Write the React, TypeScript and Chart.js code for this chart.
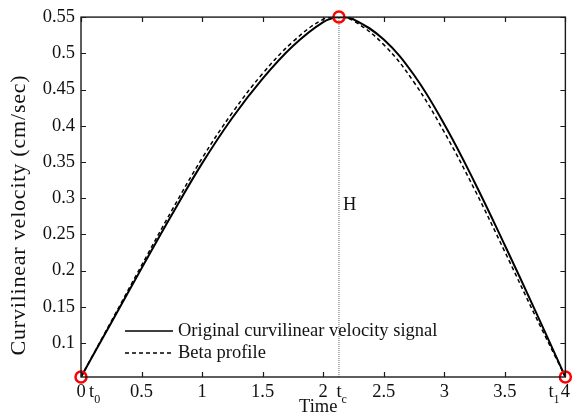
import { useEffect, useRef } from "react";
import { Chart, registerables } from "chart.js";

Chart.register(...registerables);

const timeValues = [0, 0.25, 0.5, 0.75, 1, 1.25, 1.5, 1.75, 2, 2.13, 2.25, 2.5, 2.75, 3, 3.25, 3.5, 3.75, 4];
const originalVelocity = [0.053, 0.128, 0.203, 0.277, 0.348, 0.411, 0.465, 0.51, 0.543, 0.55, 0.547, 0.519, 0.47, 0.402, 0.322, 0.235, 0.145, 0.053];
const betaProfile = [0.053, 0.13, 0.207, 0.283, 0.355, 0.418, 0.472, 0.516, 0.547, 0.55, 0.545, 0.512, 0.46, 0.391, 0.312, 0.226, 0.138, 0.053];

const markerTimes = [0, 2.13, 4];
const markerValues = [0.053, 0.55, 0.053];

const peakTime = 2.13;
const hLineValues = [0.053, 0.55];
const hLabelValue = 0.29;

const xTickValues = [0, 0.5, 1, 1.5, 2, 2.5, 3, 3.5, 4];
const yTickValues = [0.1, 0.15, 0.2, 0.25, 0.3, 0.35, 0.4, 0.45, 0.5, 0.55];
const specialTickTimes = [0, 2.13, 4];
const specialTickSubs = ["0", "c", "1"];

const seriesNames = ["Original curvilinear velocity signal", "Beta profile"];
const xTitle = "Time";
const yTitle = "Curvilinear velocity (cm/sec)";

const FONT = "'Liberation Serif', 'Times New Roman', serif";
const FS = 18.5;

export default function App() {
  const ref = useRef<HTMLCanvasElement | null>(null);

  useEffect(() => {
    if (!ref.current) return;

    const decor = {
      id: "decor",
      afterDatasetsDraw(chart: any) {
        const { ctx, chartArea } = chart;
        const { left, right, top, bottom } = chartArea;
        const xs = chart.scales.x;
        const ys = chart.scales.y;
        ctx.save();
        // box
        ctx.strokeStyle = "#1a1a1a";
        ctx.lineWidth = 1.4;
        ctx.setLineDash([]);
        ctx.strokeRect(left, top, right - left, bottom - top);
        // inward ticks
        ctx.lineWidth = 1.2;
        ctx.beginPath();
        xTickValues.forEach((v) => {
          const px = Math.round(xs.getPixelForValue(v)) + 0.5;
          ctx.moveTo(px, bottom);
          ctx.lineTo(px, bottom - 5);
          ctx.moveTo(px, top);
          ctx.lineTo(px, top + 5);
        });
        yTickValues.forEach((v) => {
          const py = Math.round(ys.getPixelForValue(v)) + 0.5;
          ctx.moveTo(left, py);
          ctx.lineTo(left + 5, py);
          ctx.moveTo(right, py);
          ctx.lineTo(right - 5, py);
        });
        ctx.stroke();

        // special tick labels t0, tc, t1
        ctx.fillStyle = "#111";
        ctx.textBaseline = "alphabetic";
        ctx.textAlign = "left";
        const offsets = [8, -2.5, -17];
        specialTickTimes.forEach((t, i) => {
          const px = xs.getPixelForValue(t) + offsets[i];
          ctx.font = `${FS}px ${FONT}`;
          ctx.fillText("t", px, 397);
          const w = ctx.measureText("t").width;
          ctx.font = `12px ${FONT}`;
          ctx.fillText(specialTickSubs[i], px + w, 403);
        });

        // x title
        ctx.font = `${FS}px ${FONT}`;
        ctx.textAlign = "center";
        ctx.fillText(xTitle, (left + right) / 2 - 5, 412);

        // y title
        ctx.save();
        ctx.translate(19, 215);
        ctx.rotate(-Math.PI / 2);
        ctx.font = `22px ${FONT}`;
        (ctx as any).letterSpacing = "0.8px";
        ctx.textAlign = "center";
        ctx.textBaseline = "middle";
        ctx.fillText(yTitle, 0, 0);
        ctx.restore();

        // H label
        ctx.font = `${FS}px ${FONT}`;
        ctx.textAlign = "left";
        ctx.textBaseline = "middle";
        ctx.fillText("H", xs.getPixelForValue(peakTime) + 4, ys.getPixelForValue(hLabelValue));

        // legend
        const lx = left + 44;
        const rows = [bottom - 46, bottom - 24];
        const dsList = [chart.data.datasets[1], chart.data.datasets[2]];
        rows.forEach((y, i) => {
          const ds = dsList[i];
          ctx.strokeStyle = ds.borderColor;
          ctx.lineWidth = i === 0 ? 1.6 : 1.4;
          ctx.setLineDash(ds.borderDash || []);
          ctx.beginPath();
          ctx.moveTo(lx, y);
          ctx.lineTo(lx + 48, y);
          ctx.stroke();
          ctx.setLineDash([]);
          ctx.fillStyle = "#111";
          ctx.font = `${FS}px ${FONT}`;
          ctx.textBaseline = "middle";
          ctx.fillText(seriesNames[i], lx + 53, y);
        });
        ctx.restore();
      },
    };

    const chart = new Chart(ref.current, {
      type: "line",
      data: {
        datasets: [
          {
            label: "markers",
            data: markerTimes.map((t, i) => ({ x: t, y: markerValues[i] })),
            showLine: false,
            pointStyle: "circle",
            pointRadius: 5.5,
            pointBorderWidth: 2.5,
            pointBorderColor: "#ff0000",
            pointBackgroundColor: "rgba(0,0,0,0)",
            clip: false,
          } as any,
          {
            label: seriesNames[0],
            data: timeValues.map((t, i) => ({ x: t, y: originalVelocity[i] })),
            borderColor: "#000",
            borderWidth: 2,
            pointRadius: 0,
            tension: 0.4,
            fill: false,
          },
          {
            label: seriesNames[1],
            data: timeValues.map((t, i) => ({ x: t, y: betaProfile[i] })),
            borderColor: "#000",
            borderWidth: 1.5,
            borderDash: [4, 3],
            pointRadius: 0,
            tension: 0.4,
            fill: false,
          },
          {
            label: "H",
            data: hLineValues.map((v) => ({ x: peakTime, y: v })),
            borderColor: "#666",
            borderWidth: 1,
            borderDash: [1, 1],
            pointRadius: 0,
            fill: false,
          },
        ],
      },
      options: {
        responsive: false,
        animation: false,
        devicePixelRatio: 1,
        layout: { padding: { top: 17, right: 8, left: 0, bottom: 0 } },
        plugins: {
          legend: { display: false },
          tooltip: { enabled: false },
          title: { display: false },
        },
        scales: {
          x: {
            type: "linear",
            min: 0,
            max: 4,
            grid: { display: false, drawTicks: false },
            border: { display: false },
            afterBuildTicks: (s: any) => {
              s.ticks = xTickValues.map((v) => ({ value: v }));
            },
            afterFit: (s: any) => {
              s.height = 38;
            },
            ticks: {
              autoSkip: false,
              maxRotation: 0,
              padding: 4,
              color: "#111",
              font: { family: FONT, size: FS },
              callback: (v: any) => String(Number(Number(v).toFixed(2))),
            },
          },
          y: {
            type: "linear",
            min: 0.053,
            max: 0.55,
            grid: { display: false, drawTicks: false },
            border: { display: false },
            afterBuildTicks: (s: any) => {
              s.ticks = yTickValues.map((v) => ({ value: v }));
            },
            afterFit: (s: any) => {
              s.width = 81;
            },
            ticks: {
              autoSkip: false,
              padding: 6,
              color: "#111",
              font: { family: FONT, size: FS },
              callback: (v: any) => String(Number(Number(v).toFixed(2))),
            },
          },
        },
      },
      plugins: [decor],
    });

    return () => chart.destroy();
  }, []);

  return (
    <div style={{ position: "absolute", left: 0, top: 0, width: 574, height: 415, background: "#fff" }}>
      <canvas ref={ref} width={574} height={415} style={{ display: "block" }} />
    </div>
  );
}
